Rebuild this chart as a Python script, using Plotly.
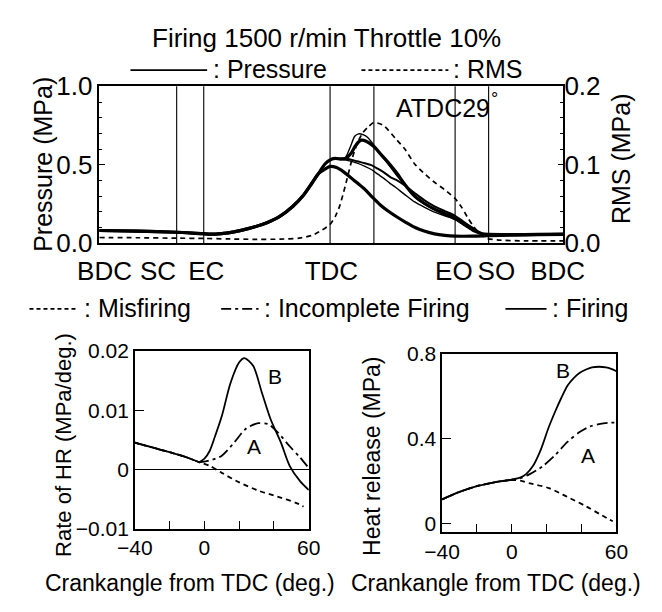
import plotly.graph_objects as go

# ---------------- data: top panel ----------------
comp_deg = [-180, -150, -120, -100, -90, -80, -70, -60, -50, -40, -30, -22, -15, -10]
comp_p = [0.081, 0.077, 0.070, 0.061, 0.058, 0.066, 0.082, 0.103, 0.131, 0.171, 0.234, 0.302, 0.384, 0.443]

mis_deg = [-5, -1, 4, 10, 14, 20, 26, 32, 38, 44, 50, 58, 65, 72, 80, 88, 96, 110, 122, 140, 160, 180]
mis_p = [0.472, 0.490, 0.482, 0.452, 0.426, 0.385, 0.343, 0.292, 0.244, 0.205, 0.172, 0.132, 0.100, 0.078, 0.060, 0.050, 0.045, 0.045, 0.048, 0.052, 0.054, 0.056]

f1_deg = [-5, 0, 3, 7, 11, 15, 19, 23, 27, 33, 38, 43, 50, 57, 64, 72, 79, 88, 96, 102, 108, 113, 117, 122, 140, 160, 180]
f1_p = [0.505, 0.535, 0.541, 0.536, 0.540, 0.570, 0.625, 0.657, 0.650, 0.616, 0.570, 0.525, 0.455, 0.375, 0.305, 0.255, 0.222, 0.190, 0.162, 0.130, 0.101, 0.075, 0.060, 0.056, 0.055, 0.056, 0.058]

f2_deg = [-5, 0, 3, 7, 11, 15, 18, 21, 25, 28, 33, 38, 43, 50, 57, 64, 72, 79, 88, 96, 102, 108, 113, 118, 122]
f2_p = [0.505, 0.535, 0.541, 0.538, 0.548, 0.620, 0.680, 0.697, 0.690, 0.675, 0.625, 0.565, 0.515, 0.440, 0.370, 0.300, 0.250, 0.215, 0.180, 0.150, 0.120, 0.092, 0.070, 0.058, 0.056]

f3_deg = [-5, 0, 3, 8, 14, 20, 26, 31, 36, 40.5, 45, 50, 57, 64.6, 72, 79, 88, 96, 101, 106, 111, 116, 122]
f3_p = [0.505, 0.535, 0.541, 0.535, 0.525, 0.510, 0.490, 0.470, 0.440, 0.415, 0.385, 0.355, 0.310, 0.263, 0.230, 0.202, 0.175, 0.152, 0.125, 0.097, 0.072, 0.058, 0.055]

f4_deg = [-5, 0, 3, 8, 14, 20, 26, 31, 36, 41, 46, 50, 57, 64.6, 72, 79, 88, 96, 103, 109, 114, 119, 122]
f4_p = [0.505, 0.535, 0.541, 0.540, 0.535, 0.522, 0.510, 0.498, 0.475, 0.450, 0.420, 0.405, 0.368, 0.320, 0.275, 0.240, 0.205, 0.175, 0.135, 0.100, 0.070, 0.058, 0.056]

rms_deg = [-180, -150, -120, -99, -80, -60, -40, -25, -15, -8, -1, 3, 6.6, 9, 11.4, 14, 16.3, 18.5, 21.1, 24.5, 28.4, 33, 40.5, 50, 57, 64.6, 72, 79, 88, 96, 101, 106, 110, 113, 117, 121, 130, 150, 180]
rms_v = [0.0073, 0.0070, 0.0065, 0.0061, 0.0055, 0.0050, 0.0052, 0.0065, 0.010, 0.016, 0.024, 0.034, 0.048, 0.062, 0.077, 0.094, 0.109, 0.120, 0.131, 0.141, 0.148, 0.154, 0.150, 0.133, 0.120, 0.101, 0.089, 0.079, 0.068, 0.057, 0.046, 0.032, 0.022, 0.016, 0.010, 0.006, 0.004, 0.003, 0.003]

event_deg = [-120, -99, -1, 33, 96, 122]
top_tick_pos = [-176, -134.5, -97, 0, 95, 128, 175.5]
top_tick_text = ["BDC", "SC", "EC", "TDC", "EO", "SO", "BDC"]

# ---------------- data: rate of heat release ----------------
rhr_common_deg = [-40, -30, -20, -10, -3]
rhr_common = [0.0045, 0.0037, 0.0029, 0.0020, 0.0012]
rhr_fir_deg = [-3, 0, 3, 6, 10, 15, 20, 23, 28, 33, 38, 44, 49, 55, 60]
rhr_fir = [0.0012, 0.0018, 0.0031, 0.0055, 0.0090, 0.0146, 0.0181, 0.0188, 0.0175, 0.0130, 0.0085, 0.0045, 0.0006, -0.0020, -0.0035]
rhr_inc_deg = [-3, 0, 3, 10, 17, 24, 31, 37, 42, 49, 55, 60]
rhr_inc = [0.0012, 0.0013, 0.0015, 0.0023, 0.0045, 0.0069, 0.0078, 0.0076, 0.0063, 0.0039, 0.0020, 0.0002]
rhr_mis_deg = [-3, 3, 10, 20, 31, 42, 53, 57]
rhr_mis = [0.0012, 0.0006, -0.0006, -0.0022, -0.0036, -0.0046, -0.0057, -0.0063]

# ---------------- data: heat release ----------------
hr_common_deg = [-40, -30, -20, -10, 0]
hr_common = [0.115, 0.150, 0.177, 0.195, 0.207]
hr_fir_deg = [0, 5, 8, 12, 16.7, 21, 25, 28.3, 32, 35.5, 39, 42.6, 46, 50, 54, 57, 60]
hr_fir = [0.207, 0.218, 0.232, 0.270, 0.350, 0.450, 0.530, 0.590, 0.650, 0.685, 0.710, 0.725, 0.735, 0.738, 0.735, 0.728, 0.717]
hr_inc_deg = [0, 5, 10, 17.6, 24.8, 31.9, 39.1, 45, 50, 55, 60]
hr_inc = [0.207, 0.215, 0.232, 0.270, 0.322, 0.385, 0.432, 0.458, 0.468, 0.474, 0.476]
hr_mis_deg = [0, 5, 10.4, 21.2, 31.9, 42.6, 51.6, 57.9]
hr_mis = [0.207, 0.203, 0.190, 0.168, 0.126, 0.082, 0.040, 0.012]

bottom_x_ticks = [-40, 0, 60]
bottom_x_text = ["\u221240", "0", "60"]
bottom_x_minor = [-20, 20, 40]
rhr_y_ticks = [-0.01, 0, 0.01, 0.02]
rhr_y_text = ["\u22120.01", "0", "0.01", "0.02"]
hr_y_ticks = [0, 0.4, 0.8]
hr_y_text = ["0", "0.4", "0.8"]

W, H = 662, 612
FONT = "Liberation Sans, Arial, sans-serif"
MIS_DASH = "5px,4px"
INC_DASH = "11px,4px,3px,4px"


def px(x):
    return x / W


def py(y):
    return 1 - y / H


fig = go.Figure()

# top panel pressure curves
curves = [(mis_deg, mis_p, 3.2), (f3_deg, f3_p, 1.4), (f4_deg, f4_p, 2.0), (f2_deg, f2_p, 1.4), (f1_deg, f1_p, 3.2)]
for d, p, w in curves:
    fig.add_trace(go.Scatter(x=comp_deg + d, y=comp_p + p, mode="lines",
                             line=dict(color="black", width=w, shape="spline", smoothing=0.7),
                             xaxis="x", yaxis="y", showlegend=False, hoverinfo="skip"))
fig.add_trace(go.Scatter(x=rms_deg, y=rms_v, mode="lines",
                         line=dict(color="black", width=1.7, dash="5px,4px", shape="spline", smoothing=0.6),
                         xaxis="x", yaxis="y2", showlegend=False, hoverinfo="skip"))

# bottom-left rate of HR
for d, v, dash in [(rhr_mis_deg, rhr_mis, MIS_DASH), (rhr_inc_deg, rhr_inc, INC_DASH), (rhr_fir_deg, rhr_fir, "solid")]:
    fig.add_trace(go.Scatter(x=rhr_common_deg + d, y=rhr_common + v, mode="lines",
                             line=dict(color="black", width=1.8, dash=dash, shape="spline", smoothing=0.8),
                             xaxis="x3", yaxis="y3", showlegend=False, hoverinfo="skip"))

# bottom-right heat release
for d, v, dash in [(hr_mis_deg, hr_mis, MIS_DASH), (hr_inc_deg, hr_inc, INC_DASH), (hr_fir_deg, hr_fir, "solid")]:
    fig.add_trace(go.Scatter(x=hr_common_deg + d, y=hr_common + v, mode="lines",
                             line=dict(color="black", width=1.8, dash=dash, shape="spline", smoothing=0.8),
                             xaxis="x4", yaxis="y4", showlegend=False, hoverinfo="skip"))

shapes = []
for e in event_deg:
    shapes.append(dict(type="line", xref="x", yref="y domain", x0=e, x1=e, y0=0, y1=1,
                       line=dict(color="black", width=1.1)))

# legend samples
def seg(x0, x1, y, dash, w=1.8):
    shapes.append(dict(type="line", xref="paper", yref="paper", x0=px(x0), x1=px(x1),
                       y0=py(y), y1=py(y), line=dict(color="black", width=w, dash=dash)))

seg(116, 198, 58, "solid")
seg(363, 456, 58, "4px,3px")
seg(8, 59, 309, "4px,3px")
seg(213, 253, 309, "10px,4px,3px,4px")
seg(517, 561, 309, "solid")

ann = []

def txt(x, y, s, size, anchor="center", angle=0):
    ann.append(dict(x=px(x), y=py(y), xref="paper", yref="paper", text=s, showarrow=False,
                    xanchor=anchor, yanchor="middle", textangle=angle,
                    font=dict(size=size, color="black", family=FONT)))

txt(326, 24, "Firing 1500 r/min Throttle 10%", 26)
txt(202, 57, ": Pressure", 25, "left")
txt(459, 57, ": RMS", 25, "left")
txt(64, 308, ": Misfiring", 25, "left")
txt(257, 308, ": Incomplete Firing", 25, "left")
txt(565, 308, ": Firing", 25, "left")
txt(23, 157, "Pressure (MPa)", 25, angle=-90)
txt(640, 151, "RMS (MPa)", 25, angle=-90)
txt(45, 452, "Rate of HR (MPa/deg.)", 22, angle=-90)
txt(375, 464, "Heat release (MPa)", 23, angle=-90)
txt(180, 597, "Crankangle from TDC (deg.)", 23)
txt(507, 597, "Crankangle from TDC (deg.)", 23)
txt(450, 98, "ATDC29", 25)
txt(505, 88, "°", 18)

for x, y, s, xr, yr in [(40.3, 0.0157, "B", "x3", "y3"), (28.6, 0.0039, "A", "x3", "y3"),
                        (29.2, 0.719, "B", "x4", "y4"), (43.5, 0.322, "A", "x4", "y4")]:
    ann.append(dict(x=x, y=y, xref=xr, yref=yr, text=s, showarrow=False,
                    font=dict(size=21, color="black", family=FONT)))

axis_common = dict(showline=True, mirror=True, linecolor="black", linewidth=1.5,
                   showgrid=False, zeroline=False, tickcolor="black",
                   tickfont=dict(size=21, color="black", family=FONT))
minor_x = dict(tickvals=bottom_x_minor, ticks="inside", ticklen=8, tickcolor="black", showgrid=False)

fig.update_layout(
    width=W, height=H, autosize=False,
    margin=dict(l=0, r=0, t=0, b=0),
    paper_bgcolor="white", plot_bgcolor="white",
    font=dict(family=FONT, color="black"),
    shapes=shapes, annotations=ann,
    xaxis=dict(axis_common, domain=[px(82.7), px(579)], range=[-180, 180], anchor="y",
               ticks="", tickvals=top_tick_pos, ticktext=top_tick_text,
               tickfont=dict(size=26, color="black", family=FONT), ticklabelstandoff=4),
    yaxis=dict(axis_common, domain=[py(240), py(75)], range=[0, 1], anchor="x",
               dtick=0.5, tickformat=".1f", ticks="inside", ticklen=6,
               minor=dict(dtick=0.1, ticks="inside", ticklen=3, tickcolor="black"),
               tickfont=dict(size=26, color="black", family=FONT)),
    yaxis2=dict(overlaying="y", side="right", range=[0, 0.2], anchor="x",
                showgrid=False, zeroline=False, showline=False,
                dtick=0.1, tickformat=".1f", ticks="inside", ticklen=5, tickcolor="black",
                minor=dict(dtick=0.02, ticks="inside", ticklen=3, tickcolor="black"),
                tickfont=dict(size=26, color="black", family=FONT)),
    xaxis3=dict(axis_common, domain=[px(120.7), px(306.7)], range=[-40, 60], anchor="y3",
                tickvals=bottom_x_ticks, ticktext=bottom_x_text,
                ticks="inside", ticklen=8, minor=minor_x),
    yaxis3=dict(axis_common, domain=[py(540), py(353.3)], range=[-0.01, 0.02], anchor="x3",
                tickvals=rhr_y_ticks, ticktext=rhr_y_text,
                ticks="inside", ticklen=9, zeroline=True, zerolinecolor="black", zerolinewidth=1),
    xaxis4=dict(axis_common, domain=[px(449.3), px(635.7)], range=[-40, 60], anchor="y4",
                tickvals=bottom_x_ticks, ticktext=bottom_x_text,
                ticks="inside", ticklen=8, minor=minor_x),
    yaxis4=dict(axis_common, domain=[py(543.3), py(356)], range=[-0.037, 0.8], anchor="x4",
                tickvals=hr_y_ticks, ticktext=hr_y_text,
                ticks="inside", ticklen=9),
)

fig.write_html("out.html")
